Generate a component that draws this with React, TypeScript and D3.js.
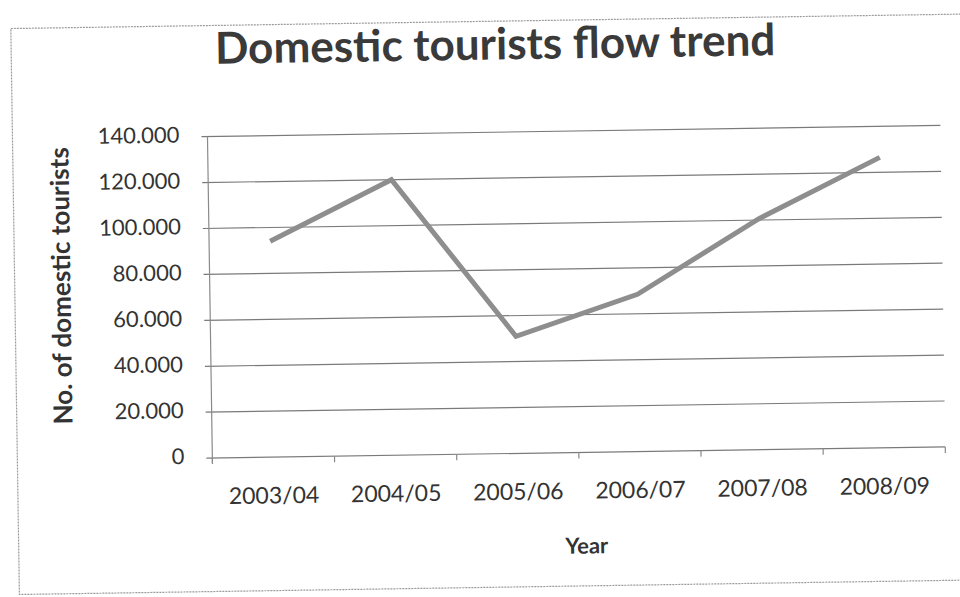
import React from "react";
import * as d3 from "d3";

const categories = ["2003/04", "2004/05", "2005/06", "2006/07", "2007/08", "2008/09"];
const touristValues = [94000, 120000, 51000, 68500, 100500, 126500];
const yTicks = [0, 20000, 40000, 60000, 80000, 100000, 120000, 140000];

const W = 960;
const H = 597;
const FONT = "Lato, 'Open Sans', sans-serif";

export default function App() {
  const x0 = 210;
  const x1 = 943;
  const yBottom = 452.5;
  const yTop = 131;

  const xBand = d3.scaleBand<string>().domain(categories).range([x0, x1]);
  const y = d3.scaleLinear().domain([0, 140000]).range([yBottom, yTop]);
  const cx = (c: string) => (xBand(c) as number) + xBand.bandwidth() / 2;

  const line = d3
    .line<number>()
    .x((_, i) => cx(categories[i]))
    .y((d) => y(d));

  const fmt = (v: number) => (v === 0 ? "0" : d3.format(".3f")(v / 1000));

  const boundaries = categories.map((c) => xBand(c) as number).concat([x1]);

  return (
    <svg
      width={W}
      height={H}
      style={{ position: "absolute", left: 0, top: 0, background: "#fff" }}
    >
      <rect x={0} y={0} width={W} height={H} fill="#fff" />
      <g transform="rotate(-0.87, 576, 300)">
        {/* chart border */}
        <rect
          x={15}
          y={20}
          width={1000}
          height={566}
          fill="none"
          stroke="#9a9a9a"
          strokeWidth={1.2}
          strokeDasharray="2 1"
        />
        {/* title */}
        <text
          x={499}
          y={47}
          textAnchor="middle"
          dominantBaseline="middle"
          fontFamily={FONT}
          fontWeight={700}
          fontSize={44}
          fill="#3a3a3a"
        >
          Domestic tourists flow trend
        </text>
        {/* gridlines */}
        {yTicks.map((t) => (
          <line
            key={t}
            x1={x0 - 6}
            x2={x1}
            y1={y(t)}
            y2={y(t)}
            stroke="#7a7a7a"
            strokeWidth={1.2}
          />
        ))}
        {/* y axis */}
        <line x1={x0} x2={x0} y1={yTop} y2={yBottom + 5} stroke="#8a8a8a" strokeWidth={1.2} />
        {/* x ticks */}
        {boundaries.map((b, i) => (
          <line
            key={i}
            x1={b}
            x2={b}
            y1={yBottom}
            y2={yBottom + 6}
            stroke="#8a8a8a"
            strokeWidth={1.2}
          />
        ))}
        {/* y tick labels */}
        {yTicks.map((t) => (
          <text
            key={t}
            x={182}
            y={y(t)}
            textAnchor="end"
            dominantBaseline="middle"
            fontFamily={FONT}
            fontSize={22}
            fill="#333"
          >
            {fmt(t)}
          </text>
        ))}
        {/* x tick labels */}
        {categories.map((c) => (
          <text
            key={c}
            x={cx(c)}
            y={493}
            textAnchor="middle"
            dominantBaseline="middle"
            fontFamily={FONT}
            fontSize={23}
            fill="#333"
          >
            {c}
          </text>
        ))}
        {/* axis titles */}
        <text
          x={583}
          y={548}
          textAnchor="middle"
          dominantBaseline="middle"
          fontFamily={FONT}
          fontWeight={700}
          fontSize={22}
          fill="#333"
        >
          Year
        </text>
        <text
          transform="translate(64, 278) rotate(-90)"
          textAnchor="middle"
          dominantBaseline="middle"
          fontFamily={FONT}
          fontWeight={700}
          fontSize={26}
          fill="#333"
        >
          No. of domestic tourists
        </text>
        {/* data line */}
        <path
          d={line(touristValues) || ""}
          fill="none"
          stroke="#8e8e8e"
          strokeWidth={5}
          strokeLinejoin="miter"
        />
      </g>
    </svg>
  );
}
